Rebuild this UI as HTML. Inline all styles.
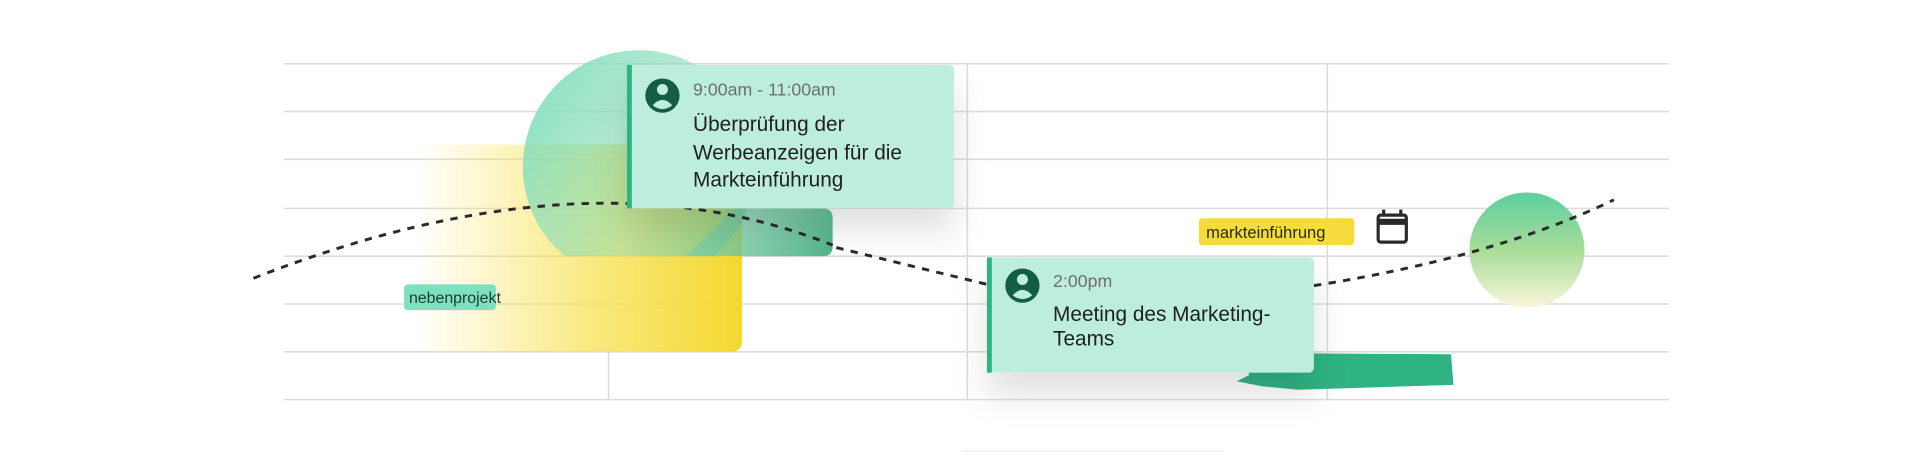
<!DOCTYPE html>
<html><head><meta charset="utf-8"><style>html,body{margin:0;padding:0;background:#fff;width:1920px;height:456px;overflow:hidden}svg{display:block}</style></head>
<body>
<svg width="1920" height="456" viewBox="0 0 1568 372" preserveAspectRatio="none" xmlns="http://www.w3.org/2000/svg" font-family="Liberation Sans, sans-serif">
<defs>
<linearGradient id="yg" x1="0" x2="1" y1="0" y2="0"><stop offset="0" stop-color="#f7df45" stop-opacity="0"/><stop offset="0.55" stop-color="#f7df45" stop-opacity="0.7"/><stop offset="1" stop-color="#f4d82e"/></linearGradient>
<linearGradient id="gg" gradientUnits="userSpaceOnUse" x1="430" y1="50" x2="680" y2="210"><stop offset="0" stop-color="#7edfba" stop-opacity="0.95"/><stop offset="0.5" stop-color="#8fdcbb" stop-opacity="0.5"/><stop offset="1" stop-color="#4fb386"/></linearGradient>
<linearGradient id="cg" x1="0" x2="0" y1="0" y2="1"><stop offset="0" stop-color="#5ccf9f"/><stop offset="0.5" stop-color="#a8dc98"/><stop offset="1" stop-color="#fbf6dc"/></linearGradient>
<clipPath id="cp"><rect x="300" y="0" width="400" height="209"/></clipPath>
<filter id="sh" x="-30%" y="-30%" width="160%" height="200%"><feDropShadow dx="0" dy="18" stdDeviation="14" flood-color="#000" flood-opacity="0.12"/></filter>
</defs>
<g stroke="#dcdcdc" stroke-width="1.3">
<line x1="232" x2="1363" y1="52" y2="52"/><line x1="232" x2="1363" y1="91" y2="91"/><line x1="232" x2="1363" y1="130" y2="130"/><line x1="232" x2="1363" y1="170" y2="170"/><line x1="232" x2="1363" y1="209" y2="209"/><line x1="232" x2="1363" y1="248" y2="248"/><line x1="232" x2="1363" y1="287" y2="287"/><line x1="232" x2="1363" y1="326" y2="326"/>
<line x1="497" x2="497" y1="287" y2="326"/><line x1="790" x2="790" y1="52" y2="326"/><line x1="1084" x2="1084" y1="52" y2="326"/>
</g>
<line x1="785" x2="1000" y1="368" y2="368" stroke="#eee" stroke-width="1"/>
<rect x="340" y="118" width="266" height="169" rx="8" fill="url(#yg)"/>
<g fill="url(#gg)" clip-path="url(#cp)">
<circle cx="522" cy="136" r="95"/>
<path d="M600 170 L672 170 Q680 170 680 178 L680 201 Q680 209 672 209 L560 209 Z"/>
</g>
<path d="M207 227 Q480 120 680 200" fill="none" stroke="#2a2a2a" stroke-width="2.4" stroke-dasharray="6 6"/>
<path d="M683 202 L806 232" fill="none" stroke="#2a2a2a" stroke-width="2.4" stroke-dasharray="6 6"/>
<ellipse cx="1247" cy="204" rx="47" ry="47" fill="url(#cg)"/>
<path d="M1073 233 Q1220 210 1318 163" fill="none" stroke="#2a2a2a" stroke-width="2.4" stroke-dasharray="6 6"/>
<path d="M1018 288 L1185 289 L1187 314 L1060 318 L1030 315 L1010 311 L1020 306 Z" fill="#2fb383"/>
<g filter="url(#sh)">
<rect x="512" y="53" width="267" height="117" rx="4" fill="#bdeedd"/>
<rect x="806" y="210" width="267" height="94" rx="4" fill="#bdeedd"/>
</g>
<rect x="512" y="53" width="4" height="117" fill="#2bb57f"/>
<rect x="806" y="210" width="4" height="94" fill="#2bb57f"/>
<g>
<circle cx="541" cy="78" r="14" fill="#155c45"/><circle cx="541" cy="73" r="4.5" fill="#bdeedd"/><path d="M533 86 Q541 77 549 86 Q541 92 533 86Z" fill="#bdeedd"/>
<circle cx="835" cy="233" r="14" fill="#155c45"/><circle cx="835" cy="228" r="4.5" fill="#bdeedd"/><path d="M827 241 Q835 232 843 241 Q835 247 827 241Z" fill="#bdeedd"/>
</g>
<text x="566" y="78" font-size="14.5" fill="#6e6e6e">9:00am - 11:00am</text>
<g font-size="17" fill="#1f1f1f"><text x="566" y="107">Überprüfung der</text><text x="566" y="130">Werbeanzeigen für die</text><text x="566" y="152">Markteinführung</text>
<text x="860" y="262">Meeting des Marketing-</text><text x="860" y="282">Teams</text></g>
<text x="860" y="234" font-size="14.5" fill="#6e6e6e">2:00pm</text>
<rect x="330" y="232" width="75" height="21" rx="3" fill="#7de0bf"/>
<text x="334" y="247" font-size="13" fill="#1f3a30">nebenprojekt</text>
<rect x="979" y="178" width="127" height="22" rx="3" fill="#f5dc3c"/>
<text x="985" y="194" font-size="13.5" fill="#2a2a1a">markteinführung</text>
<g fill="none" stroke="#2a2a2a" stroke-width="2.6"><rect x="1125.5" y="175.5" width="23" height="22" rx="2"/><line x1="1125" x2="1149" y1="181" y2="181" stroke-width="5"/><line x1="1130" x2="1130" y1="171" y2="176"/><line x1="1144" x2="1144" y1="171" y2="176"/></g>
</svg>
</body></html>
